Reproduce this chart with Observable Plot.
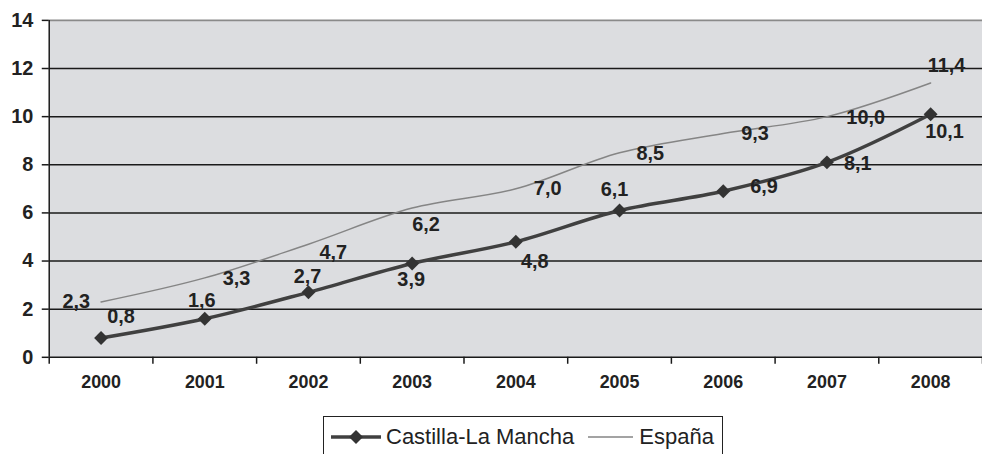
<!DOCTYPE html>
<html><head><meta charset="utf-8">
<script src="https://cdn.jsdelivr.net/npm/d3@7"></script>
<script src="https://cdn.jsdelivr.net/npm/@observablehq/plot@0.6"></script>
<style>
html,body{margin:0;padding:0;background:#fff;overflow:hidden;width:982px;height:454px;position:relative}
#chart svg{display:block}
.legend{position:absolute;left:323px;top:416px;width:398px;height:40px;border:1px solid #222;box-sizing:content-box;
  font-family:"Liberation Sans",Arial,sans-serif;font-size:22px;color:#222;display:flex;align-items:center;}
.legend svg{display:block}
</style></head><body>
<div id="chart"></div>
<div class="legend" id="legend"></div>
<script>
const years = [2000, 2001, 2002, 2003, 2004, 2005, 2006, 2007, 2008];
const clm = [0.8, 1.6, 2.7, 3.9, 4.8, 6.1, 6.9, 8.1, 10.1];
const esp = [2.3, 3.3, 4.7, 6.2, 7.0, 8.5, 9.3, 10.0, 11.4];
const yTicks = [0, 2, 4, 6, 8, 10, 12, 14];
const seriesNames = ["Castilla-La Mancha", "España"];
// data-label offsets (px) relative to each point
const clmLabelDx = [20, -3, -1, -1, 19, -5, 41, 31, 14];
const clmLabelDy = [-22, -18, -16, 16, 20, -21, -5, 1, 18];
const espLabelDx = [-25, 32, 25, 14, 32, 31, 32, 39, 16];
const espLabelDy = [0, 1, 8, 17, 0, 1, 0, 1, -17];

const fmt = v => d3.format(".1f")(v).replace(".", ",");
const clmData = years.map((year, i) => ({year, value: clm[i]}));
const espData = years.map((year, i) => ({year, value: esp[i]}));
const boundaries = [...years.map(y => y - 0.5), years[years.length - 1] + 0.5];

const labelMarks = (data, dxs, dys) => data.map((d, i) =>
  Plot.text([d], {x: "year", y: "value", text: d => fmt(d.value), dx: dxs[i], dy: dys[i],
    fontSize: 20, fontWeight: "bold", fill: "#222"}));

const chart = Plot.plot({
  width: 988, height: 394,
  marginLeft: 49, marginRight: 0, marginTop: 20, marginBottom: 35,
  x: {type: "linear", domain: [years[0] - 0.5, years[years.length - 1] + 0.5]},
  y: {domain: [0, 14]},
  style: {fontFamily: "'Liberation Sans', Arial, sans-serif", color: "#222", background: "transparent"},
  marks: [
    Plot.frame({fill: "#dcdde0", stroke: null}),
    Plot.ruleY(yTicks.filter(t => t > 0 && t < 14), {stroke: "#1a1a1a", strokeWidth: 1.5}),
    Plot.ruleY([14], {stroke: "#8a8a8a", strokeWidth: 2}),
    Plot.ruleY([0], {stroke: "#1a1a1a", strokeWidth: 1.5}),
    Plot.ruleX([years[0] - 0.5], {stroke: "#1a1a1a", strokeWidth: 1.5}),
    Plot.axisY({ticks: yTicks, tickSize: 7, tickPadding: 9, fontSize: 20, fontWeight: "bold",
      tickFormat: d => String(d), stroke: "#1a1a1a", strokeWidth: 1.5, label: null}),
    Plot.axisX({ticks: boundaries, tickSize: 7, tickFormat: () => "", stroke: "#1a1a1a", strokeWidth: 1.5, label: null}),
    Plot.axisX({ticks: years, tickSize: 0, tickPadding: 18, fontSize: 18, fontWeight: "bold",
      tickFormat: d => String(d), label: null}),
    Plot.line(espData, {x: "year", y: "value", stroke: "#858585", strokeWidth: 1.5, curve: "catmull-rom"}),
    Plot.line(clmData, {x: "year", y: "value", stroke: "#404040", strokeWidth: 3.5, curve: "catmull-rom"}),
    Plot.dot(clmData, {x: "year", y: "value", symbol: "diamond2", r: 6.3, fill: "#333", stroke: null}),
    ...labelMarks(espData, espLabelDx, espLabelDy),
    ...labelMarks(clmData, clmLabelDx, clmLabelDy)
  ]
});
document.getElementById("chart").append(chart);

// legend
const legend = document.getElementById("legend");
legend.innerHTML = `
  <svg width="50" height="14" style="margin-left:7px"><line x1="0" y1="7" x2="50" y2="7" stroke="#404040" stroke-width="3.5"/>
    <path d="M25,0 L32,7 L25,14 L18,7 Z" fill="#333"/></svg>
  <span style="margin-left:5px">${seriesNames[0]}</span>
  <svg width="45" height="14" style="margin-left:14px"><line x1="0" y1="7" x2="45" y2="7" stroke="#858585" stroke-width="1.5"/></svg>
  <span style="margin-left:6px">${seriesNames[1]}</span>`;
</script>
</body></html>
